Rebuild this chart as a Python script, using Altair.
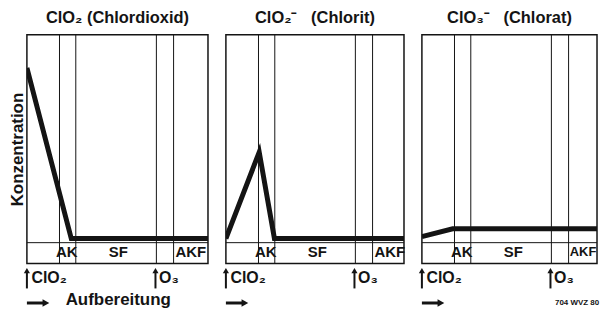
import altair as alt
import pandas as pd

FONT = "Liberation Sans"
INK = "#141414"
H = 230
WIDTHS = [182, 179, 176]
PX_PER_UNIT = 1.82

# ---- data ----
titles = ["ClO₂ (Chlordioxid)", "ClO₂⁻\u00a0\u00a0\u00a0(Chlorit)", "ClO₃⁻\u00a0\u00a0\u00a0(Chlorat)"]
curve_x = [
    [0, 24.5, 100],
    [0, 18.4, 26.8, 100],
    [0, 17, 100],
]
curve_y = [
    [84, 2, 2],
    [2, 43.5, 2, 2],
    [2.9, 6.7, 6.7],
]
divider_x = [18, 27, 71.5, 81]
band_labels = ["AK", "SF", "AKF"]
band_label_x = [
    [22, 50.5, 90.5],
    [22, 50.5, 90.5],
    [22, 50.5, 89],
]
band_label_size = [
    [15, 15, 15],
    [15, 15, 15],
    [15, 15, 13],
]
band_label_y = -4.5
feed_labels = ["ClO₂", "O₃"]
feed_x = [0, 71]
feed_text_x = [2.5, 73]
y_title = "Konzentration"
x_title = "Aufbereitung"
footnote = "704 WVZ 80"

Y = alt.Scale(domain=[-10, 100], nice=False, zero=False)


def panel(i):
    xmax = WIDTHS[i] / PX_PER_UNIT
    X = alt.Scale(domain=[0, xmax], nice=False, zero=False)
    yaxis = None
    if i == 0:
        yaxis = alt.Axis(title=y_title, labels=False, ticks=False, domain=False, grid=False,
                         titleFont=FONT, titleFontSize=17, titleFontWeight="bold",
                         titleColor=INK, titlePadding=0)

    def xe(field="x"):
        return alt.X(f"{field}:Q", scale=X, axis=None)

    def ye(field="y"):
        return alt.Y(f"{field}:Q", scale=Y, axis=yaxis)

    div = alt.Chart(pd.DataFrame({"x": divider_x, "y": -10, "y2": 100})).mark_rule(
        color=INK, strokeWidth=1).encode(x=xe(), y=ye(), y2="y2:Q")
    hline = alt.Chart(pd.DataFrame({"x": [0], "x2": [xmax], "y": [0]})).mark_rule(
        color=INK, strokeWidth=1).encode(x=xe(), x2="x2:Q", y=ye())
    curve = alt.Chart(pd.DataFrame({"x": curve_x[i], "y": curve_y[i],
                                    "o": list(range(len(curve_x[i])))})).mark_line(
        color=INK, strokeWidth=5, strokeJoin="miter", clip=True).encode(x=xe(), y=ye(), order="o:O")
    bands = alt.Chart(pd.DataFrame({"x": band_label_x[i], "y": band_label_y, "t": band_labels,
                                    "s": band_label_size[i]})).mark_text(
        font=FONT, fontWeight="bold", color=INK, baseline="middle", align="center"
    ).encode(x=xe(), y=ye(), text="t:N", size=alt.Size("s:Q", scale=None, legend=None))
    up_shaft = alt.Chart(pd.DataFrame({"x": feed_x, "y": -14, "y2": -22})).mark_rule(
        color=INK, strokeWidth=2).encode(x=xe(), y=ye(), y2="y2:Q")
    up_head = alt.Chart(pd.DataFrame({"x": feed_x, "y": -13.4})).mark_point(
        shape="triangle-up", filled=True, size=38, color=INK, opacity=1).encode(x=xe(), y=ye())
    feed_text = alt.Chart(pd.DataFrame({"x": feed_text_x, "y": -19.6, "t": feed_labels})).mark_text(
        font=FONT, fontSize=16, fontWeight="bold", color=INK, baseline="alphabetic", align="left"
    ).encode(x=xe(), y=ye(), text="t:N")
    r_shaft = alt.Chart(pd.DataFrame({"x": [0], "x2": [9], "y": [-29]})).mark_rule(
        color=INK, strokeWidth=3).encode(x=xe(), x2="x2:Q", y=ye())
    r_head = alt.Chart(pd.DataFrame({"x": [10.5], "y": [-29]})).mark_point(
        shape="triangle-right", filled=True, size=60, color=INK, opacity=1).encode(x=xe(), y=ye())
    layers = [div, hline, curve, bands, up_shaft, up_head, feed_text, r_shaft, r_head]
    if i == 0:
        layers.append(alt.Chart(pd.DataFrame({"x": [21.4], "y": [-30.1], "t": [x_title]})).mark_text(
            font=FONT, fontSize=17, fontWeight="bold", color=INK, baseline="alphabetic", align="left"
        ).encode(x=xe(), y=ye(), text="t:N"))
    if i == 2:
        layers.append(alt.Chart(pd.DataFrame({"x": [73.5], "y": [-29.2], "t": [footnote]})).mark_text(
            font=FONT, fontSize=8, fontWeight="bold", color=INK, baseline="middle", align="left"
        ).encode(x=xe(), y=ye(), text="t:N"))
    return alt.layer(*layers).properties(
        width=WIDTHS[i], height=H,
        title=alt.TitleParams(text=titles[i], font=FONT, fontSize=16.5, fontWeight="bold",
                              color=INK, anchor="middle", offset=8),
    )


chart = alt.hconcat(panel(0), panel(1), panel(2), spacing=18, bounds="flush").properties(
    padding={"left": 0, "top": 0, "right": 0, "bottom": 0}
).configure(background="white").configure_view(stroke=INK, strokeWidth=1.5)

chart.save("out.html", embed_options={"renderer": "svg", "actions": False})
